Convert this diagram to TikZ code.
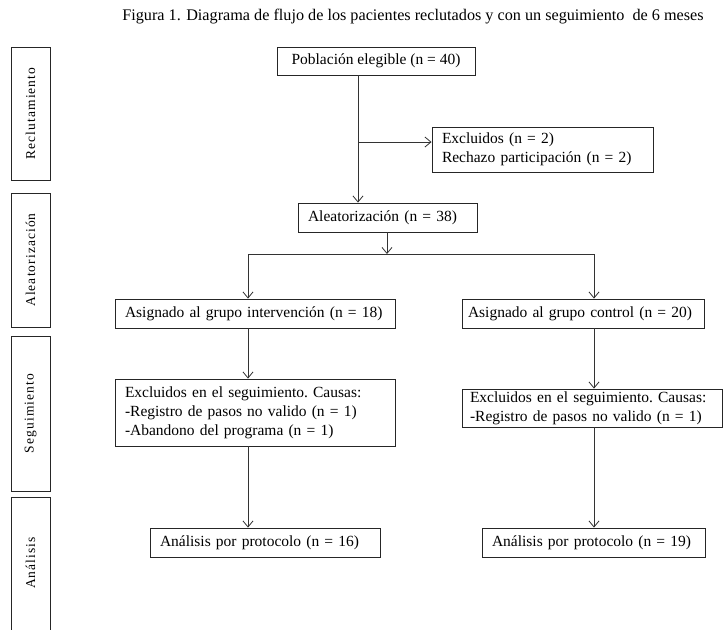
\documentclass[tikz,border=0pt]{standalone}
\usepackage{fontspec}
\setmainfont{Liberation Serif}
\newfontfamily\sidefont[LetterSpace=8]{Liberation Serif}
\usetikzlibrary{arrows.meta}
\tikzset{
  box/.style={draw=black!85, line width=0.9pt, inner xsep=10pt, inner ysep=0pt,
    font=\fontsize{15.5}{19}\selectfont, text=black},
  lbox/.style={box, align=left, anchor=center},
  sidebox/.style={draw=black!85, line width=0.9pt, minimum width=39pt, inner sep=0pt},
  sidelabel/.style={rotate=90, font=\sidefont\fontsize{13.5}{15}\selectfont, text=black},
  conn/.style={draw=black!80, line width=0.8pt},
  arr/.style={conn, -{Straight Barb[length=6pt,width=10pt,line width=0.8pt]}}
}
\begin{document}
\begin{tikzpicture}[x=1pt,y=-1pt]
\useasboundingbox[fill=white] (0,0) rectangle (724,630);

% title
\node[font=\fontsize{16.2}{18}\selectfont, text=black] (title) at (413,17)
  {Figura 1. Diagrama de flujo de los pacientes reclutados y con un seguimiento\ \ de 6 meses};

% side boxes
\node[sidebox, minimum height=133pt] (s1) at (30.5,113.5) {};
\node[sidebox, minimum height=134pt] (s2) at (30.5,260) {};
\node[sidebox, minimum height=155pt] (s3) at (30.5,413.5) {};
\node[sidebox, minimum height=136pt] (s4) at (30.5,565) {};
\node[sidelabel] (l1) at (s1.center) {Reclutamiento};
\node[sidelabel] (l2) at (s2.center) {Aleatorización};
\node[sidelabel] (l3) at (s3.center) {Seguimiento};
\node[sidelabel] (l4) at (30.5,563) {Análisis};

% main boxes
\node[box, minimum width=198pt, minimum height=28pt] (pop) at (376,61)
  {Población elegible\ (n = 40)};
\node[lbox, text width=201pt, minimum height=45pt] (exc) at (542.5,149.5)
  {Excluidos (n = 2)\\Rechazo participación\ (n = 2)};
\node[lbox, text width=159pt, minimum height=29pt] (ale) at (387.5,217.5)
  {Aleatorización (n = 38)};
\node[lbox, text width=260pt, minimum height=29pt] (asg1) at (255,313.5)
  {Asignado al grupo intervención\ (n = 18)};
\node[lbox, inner xsep=6pt, text width=230pt, minimum height=29pt] (asg2) at (583,313.5)
  {Asignado al grupo control (n = 20)};
\node[lbox, text width=260pt, minimum height=67pt] (exs1) at (255,412.5)
  {Excluidos en el seguimiento.\ Causas:\\-Registro de pasos no valido (n = 1)\\-Abandono del programa (n = 1)};
\node[lbox, inner xsep=8pt, text width=244pt, minimum height=38pt] (exs2) at (592,408)
  {Excluidos en el seguimiento.\ Causas:\\-Registro de pasos no valido (n = 1)};
\node[lbox, text width=210pt, minimum height=29pt] (ana1) at (265,542.5)
  {Análisis por protocolo (n = 16)};
\node[lbox, text width=203pt, minimum height=29pt] (ana2) at (593.5,542.5)
  {Análisis por protocolo (n = 19)};

% connector coordinates
\coordinate (j1) at (358,142);
\coordinate (split) at (387,254);
\coordinate (cL) at (248,254);
\coordinate (cR) at (594,254);

% connectors
\draw[arr] (pop.south -| j1) -- (j1 |- ale.north);
\draw[arr] (j1) -- (j1 -| exc.west);
\draw[arr] (ale.south -| split) -- (split);
\draw[conn] (cL) -- (cR);
\draw[arr] (cL) -- (cL |- asg1.north);
\draw[arr] (cR) -- (cR |- asg2.north);
\draw[arr] (cL |- asg1.south) -- (cL |- exs1.north);
\draw[arr] (cR |- asg2.south) -- (cR |- exs2.north);
\draw[arr] (cL |- exs1.south) -- (cL |- ana1.north);
\draw[arr] (cR |- exs2.south) -- (cR |- ana2.north);
\end{tikzpicture}
\end{document}
